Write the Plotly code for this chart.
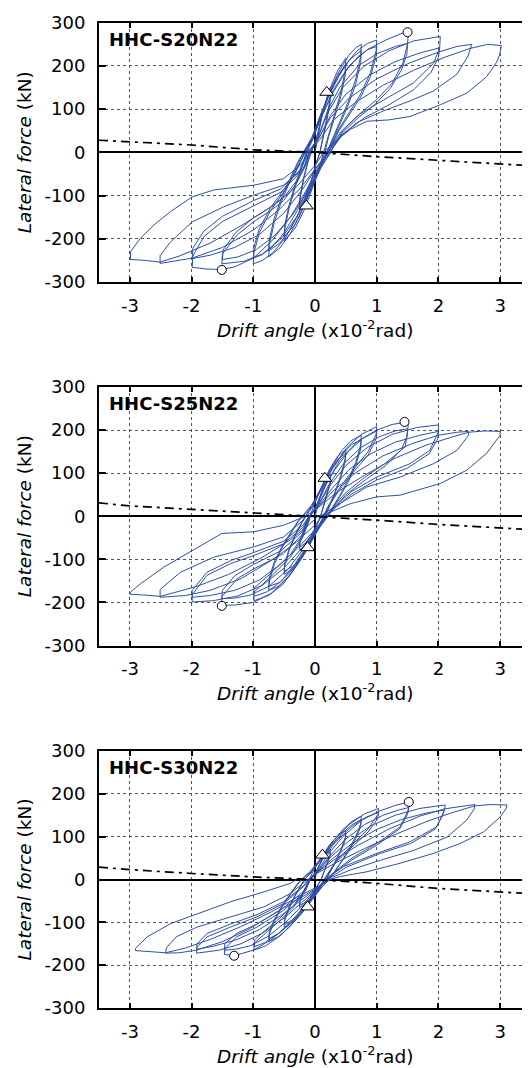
import plotly.graph_objects as go

# ---------------- data ----------------
drift_ticks = [-3, -2, -1, 0, 1, 2, 3]
force_ticks = [-300, -200, -100, 0, 100, 200, 300]
specimens = ["HHC-S20N22", "HHC-S25N22", "HHC-S30N22"]

loop_S20 = [
    (0, 0),
    (0.05, 40), (0.12, 90), (0.2, 130), (0.25, 150),
    (0.245, 125), (0.18, 70), (0.12, 30), (0.08, 0),
    (0.0, -35), (-0.08, -80), (-0.17, -115), (-0.25, -135),
    (-0.245, -110), (-0.18, -60), (-0.11, -20), (-0.06, 0),
    (0.03, 35), (0.11, 85), (0.19, 120), (0.25, 140),
    (0.245, 115), (0.18, 65), (0.12, 28), (0.08, 0),
    (0.0, -32), (-0.08, -75), (-0.17, -108), (-0.25, -128),
    (-0.245, -104), (-0.18, -56), (-0.11, -18), (-0.06, 0),
    (0.05, 45), (0.14, 100), (0.25, 150), (0.37, 190), (0.5, 218),
    (0.49, 190), (0.42, 140), (0.32, 90), (0.22, 40), (0.15, 0),
    (0.06, -40), (-0.06, -90), (-0.18, -135), (-0.32, -175), (-0.5, -205),
    (-0.49, -178), (-0.42, -130), (-0.32, -80), (-0.21, -32), (-0.13, 0),
    (-0.02, 35), (0.1, 85), (0.23, 135), (0.36, 175), (0.5, 205),
    (0.49, 178), (0.42, 130), (0.32, 82), (0.22, 36), (0.16, 0),
    (0.07, -35), (-0.06, -82), (-0.19, -128), (-0.33, -168), (-0.5, -195),
    (-0.49, -168), (-0.42, -122), (-0.32, -74), (-0.21, -28), (-0.14, 0),
    (-0.03, 35), (0.1, 90), (0.25, 145), (0.4, 190), (0.55, 225), (0.66, 242), (0.75, 250),
    (0.74, 222), (0.66, 170), (0.54, 118), (0.4, 70), (0.27, 28), (0.19, 0),
    (0.08, -38), (-0.07, -90), (-0.24, -145), (-0.4, -188), (-0.56, -220), (-0.75, -242),
    (-0.74, -214), (-0.66, -162), (-0.54, -112), (-0.4, -66), (-0.27, -24), (-0.18, 0),
    (-0.05, 32), (0.08, 82), (0.24, 135), (0.4, 180), (0.56, 214), (0.75, 236),
    (0.74, 208), (0.66, 158), (0.54, 110), (0.4, 64), (0.27, 24), (0.2, 0),
    (0.08, -36), (-0.08, -85), (-0.25, -138), (-0.41, -180), (-0.57, -210), (-0.75, -228),
    (-0.74, -202), (-0.66, -152), (-0.54, -104), (-0.4, -60), (-0.27, -20), (-0.19, 0),
    (-0.05, 35), (0.1, 90), (0.28, 150), (0.48, 200), (0.68, 235), (0.85, 252), (1.0, 260),
    (0.99, 235), (0.9, 185), (0.74, 135), (0.55, 92), (0.38, 52), (0.26, 16), (0.22, 0),
    (0.08, -35), (-0.1, -85), (-0.28, -145), (-0.48, -198), (-0.68, -232), (-0.85, -250), (-1.0, -258),
    (-0.99, -232), (-0.9, -185), (-0.72, -135), (-0.5, -90), (-0.32, -48), (-0.2, -12), (-0.16, 0),
    (-0.04, 32), (0.1, 82), (0.3, 140), (0.5, 188), (0.7, 222), (0.86, 238), (1.0, 245),
    (0.99, 222), (0.9, 176), (0.74, 128), (0.55, 86), (0.38, 48), (0.27, 14), (0.23, 0),
    (0.08, -32), (-0.1, -80), (-0.3, -138), (-0.5, -186), (-0.7, -220), (-0.86, -237), (-1.0, -245),
    (-0.99, -220), (-0.9, -176), (-0.72, -128), (-0.5, -85), (-0.32, -45), (-0.2, -10), (-0.17, 0),
    (-0.05, 30), (0.1, 80), (0.3, 145), (0.55, 200), (0.85, 238), (1.15, 260), (1.45, 278), (1.51, 275),
    (1.5, 250), (1.42, 205), (1.25, 160), (1.0, 122), (0.7, 86), (0.45, 50), (0.3, 15), (0.25, 0),
    (0.1, -35), (-0.08, -90), (-0.3, -150), (-0.55, -200), (-0.85, -235), (-1.15, -252), (-1.51, -258),
    (-1.5, -235), (-1.26, -191), (-0.99, -160), (-0.72, -135), (-0.51, -112), (-0.3, -72), (-0.15, -30), (-0.08, 0),
    (0.05, 35), (0.2, 95), (0.4, 150), (0.7, 200), (1.0, 228), (1.3, 245), (1.5, 252),
    (1.49, 228), (1.4, 190), (1.22, 148), (0.98, 112), (0.7, 80), (0.45, 46), (0.3, 14), (0.26, 0),
    (0.1, -32), (-0.1, -85), (-0.35, -142), (-0.65, -192), (-0.95, -225), (-1.25, -242), (-1.5, -248),
    (-1.49, -226), (-1.28, -185), (-1.0, -152), (-0.72, -127), (-0.5, -104), (-0.3, -66), (-0.15, -27), (-0.09, 0),
    (0.05, 35), (0.22, 95), (0.45, 150), (0.8, 200), (1.2, 235), (1.6, 258), (2.03, 268),
    (2.02, 241), (1.92, 206), (1.59, 160), (1.11, 121), (0.72, 88), (0.42, 48), (0.26, 12), (0.22, 0),
    (0.05, -35), (-0.15, -90), (-0.4, -150), (-0.7, -205), (-1.0, -245), (-1.3, -265), (-1.51, -271), (-1.75, -270), (-1.99, -266),
    (-1.98, -240), (-1.8, -195), (-1.5, -160), (-1.0, -125), (-0.55, -92), (-0.25, -48), (-0.12, 0),
    (0.05, 30), (0.25, 85), (0.5, 135), (0.9, 180), (1.3, 210), (1.7, 230), (2.02, 242),
    (2.0, 220), (1.88, 185), (1.6, 145), (1.2, 110), (0.8, 80), (0.45, 42), (0.27, 8), (0.24, 0),
    (0.05, -30), (-0.2, -85), (-0.5, -140), (-0.9, -190), (-1.3, -220), (-1.7, -238), (-1.99, -246),
    (-1.98, -222), (-1.8, -182), (-1.5, -148), (-1.0, -112), (-0.55, -84), (-0.25, -42), (-0.12, 0),
    (0.05, 30), (0.25, 80), (0.55, 125), (1.0, 170), (1.5, 205), (2.0, 232), (2.3, 245), (2.54, 250),
    (2.48, 223), (2.3, 181), (1.92, 142), (1.54, 119), (1.11, 96), (0.68, 69), (0.4, 35), (0.24, 6), (0.2, 0),
    (0.05, -30), (-0.25, -85), (-0.6, -135), (-1.0, -180), (-1.5, -220), (-2.0, -245), (-2.51, -257),
    (-2.51, -239), (-2.34, -207), (-1.99, -161), (-1.48, -126), (-0.99, -99), (-0.51, -76), (-0.19, -38), (-0.1, 0),
    (0.08, 30), (0.3, 75), (0.65, 115), (1.1, 155), (1.6, 190), (2.1, 220), (2.5, 240), (2.8, 250), (3.02, 247),
    (2.99, 225), (2.94, 208), (2.78, 175), (2.46, 137), (2.03, 110), (1.54, 83), (1.19, 75), (0.84, 72), (0.57, 53), (0.3, 22), (0.14, 0),
    (0.0, -30), (-0.3, -80), (-0.7, -125), (-1.2, -170), (-1.7, -210), (-2.2, -240), (-2.51, -254), (-2.75, -250), (-2.99, -248),
    (-2.99, -230), (-2.83, -199), (-2.61, -168), (-2.34, -137), (-1.99, -103), (-1.64, -87), (-0.99, -76), (-0.51, -61), (-0.24, -30), (-0.07, 0),
]

loop_S25 = [
    (0, 0),
    (0.05, 30), (0.12, 65), (0.2, 88), (0.25, 98),
    (0.245, 80), (0.18, 45), (0.12, 18), (0.09, 0),
    (0.02, -25), (-0.07, -50), (-0.16, -68), (-0.25, -78),
    (-0.245, -60), (-0.18, -32), (-0.12, -10), (-0.08, 0),
    (0.04, 28), (0.12, 60), (0.2, 82), (0.25, 92),
    (0.245, 75), (0.18, 42), (0.12, 16), (0.09, 0),
    (0.02, -23), (-0.07, -46), (-0.16, -63), (-0.25, -72),
    (-0.245, -56), (-0.18, -30), (-0.12, -9), (-0.08, 0),
    (-0.02, 25), (0.1, 65), (0.22, 105), (0.36, 138), (0.5, 155),
    (0.49, 135), (0.42, 95), (0.32, 55), (0.22, 20), (0.16, 0),
    (0.06, -25), (-0.06, -60), (-0.2, -95), (-0.34, -120), (-0.5, -135),
    (-0.49, -115), (-0.42, -80), (-0.32, -45), (-0.21, -15), (-0.15, 0),
    (-0.03, 24), (0.1, 62), (0.22, 100), (0.36, 131), (0.5, 147),
    (0.49, 128), (0.42, 90), (0.32, 52), (0.22, 18), (0.17, 0),
    (0.06, -24), (-0.06, -57), (-0.2, -90), (-0.34, -114), (-0.5, -128),
    (-0.49, -109), (-0.42, -76), (-0.32, -42), (-0.21, -13), (-0.16, 0),
    (-0.04, 25), (0.1, 65), (0.25, 110), (0.42, 150), (0.58, 175), (0.75, 188),
    (0.74, 165), (0.66, 125), (0.54, 85), (0.4, 48), (0.27, 15), (0.2, 0),
    (0.08, -25), (-0.08, -62), (-0.25, -105), (-0.42, -140), (-0.58, -162), (-0.75, -172),
    (-0.74, -150), (-0.66, -112), (-0.54, -75), (-0.4, -42), (-0.27, -12), (-0.2, 0),
    (-0.05, 24), (0.1, 62), (0.26, 105), (0.43, 142), (0.59, 166), (0.75, 178),
    (0.74, 156), (0.66, 118), (0.54, 80), (0.4, 45), (0.27, 13), (0.21, 0),
    (0.08, -24), (-0.08, -59), (-0.25, -100), (-0.42, -133), (-0.58, -154), (-0.75, -163),
    (-0.74, -142), (-0.66, -106), (-0.54, -71), (-0.4, -39), (-0.27, -10), (-0.21, 0),
    (-0.06, 25), (0.1, 65), (0.3, 115), (0.52, 160), (0.75, 190), (1.0, 208),
    (0.99, 190), (0.86, 150), (0.62, 108), (0.38, 62), (0.2, 20), (0.14, 0),
    (0.05, -25), (-0.1, -65), (-0.3, -115), (-0.52, -158), (-0.75, -184), (-0.99, -196),
    (-0.99, -176), (-0.72, -141), (-0.4, -95), (-0.2, -50), (-0.1, -12), (-0.08, 0),
    (0.02, 25), (0.12, 60), (0.32, 108), (0.54, 150), (0.77, 180), (1.0, 198),
    (0.99, 180), (0.86, 142), (0.62, 102), (0.38, 58), (0.2, 18), (0.15, 0),
    (0.05, -24), (-0.1, -62), (-0.32, -110), (-0.54, -150), (-0.77, -175), (-0.99, -186),
    (-0.99, -167), (-0.72, -133), (-0.4, -89), (-0.2, -46), (-0.1, -10), (-0.08, 0),
    (0.05, 30), (0.2, 80), (0.4, 130), (0.7, 175), (1.0, 200), (1.25, 213), (1.45, 218), (1.51, 213),
    (1.5, 195), (1.46, 161), (1.13, 122), (0.8, 90), (0.5, 55), (0.25, 15), (0.18, 0),
    (0.05, -30), (-0.15, -80), (-0.4, -135), (-0.7, -178), (-1.0, -200), (-1.3, -206), (-1.51, -207),
    (-1.51, -187), (-1.26, -145), (-0.99, -122), (-0.51, -87), (-0.19, -40), (-0.08, 0),
    (0.05, 25), (0.22, 72), (0.45, 120), (0.75, 160), (1.05, 185), (1.3, 198), (1.5, 203),
    (1.49, 185), (1.4, 155), (1.15, 118), (0.82, 85), (0.5, 50), (0.27, 12), (0.2, 0),
    (0.05, -25), (-0.17, -72), (-0.43, -122), (-0.75, -163), (-1.05, -183), (-1.3, -190), (-1.51, -191),
    (-1.5, -172), (-1.3, -138), (-1.0, -112), (-0.55, -80), (-0.22, -38), (-0.09, 0),
    (0.05, 25), (0.25, 72), (0.5, 118), (0.85, 160), (1.25, 190), (1.65, 206), (2.0, 212),
    (2.0, 196), (1.86, 153), (1.54, 122), (1.0, 91), (0.6, 58), (0.3, 20), (0.2, 0),
    (0.05, -25), (-0.2, -72), (-0.5, -120), (-0.85, -160), (-1.25, -185), (-1.65, -196), (-1.99, -199),
    (-1.99, -182), (-1.75, -137), (-1.37, -110), (-0.99, -91), (-0.51, -64), (-0.19, -25), (-0.1, 0),
    (0.05, 22), (0.28, 65), (0.55, 108), (0.9, 145), (1.3, 172), (1.7, 188), (2.0, 197),
    (1.99, 180), (1.85, 145), (1.5, 112), (1.0, 84), (0.6, 52), (0.3, 16), (0.2, 0),
    (0.05, -22), (-0.22, -65), (-0.55, -110), (-0.9, -148), (-1.3, -172), (-1.7, -184), (-1.99, -188),
    (-1.99, -172), (-1.75, -130), (-1.35, -102), (-0.99, -84), (-0.51, -58), (-0.19, -20), (-0.1, 0),
    (0.05, 20), (0.3, 60), (0.65, 100), (1.1, 140), (1.6, 170), (2.0, 188), (2.3, 195), (2.49, 197),
    (2.49, 188), (2.3, 153), (1.92, 122), (1.38, 91), (0.84, 68), (0.41, 29), (0.14, 6), (0.12, 0),
    (0.0, -20), (-0.3, -60), (-0.7, -102), (-1.2, -145), (-1.7, -172), (-2.1, -184), (-2.51, -188),
    (-2.51, -170), (-2.18, -130), (-1.64, -95), (-0.99, -71), (-0.51, -48), (-0.19, -9), (-0.15, 0),
    (0.05, 20), (0.35, 55), (0.8, 95), (1.3, 135), (1.8, 165), (2.2, 183), (2.49, 195), (2.75, 198), (3.0, 197),
    (3.0, 188), (2.78, 146), (2.46, 107), (2.03, 76), (1.38, 49), (1.0, 45), (0.57, 29), (0.19, 6), (0.05, 0),
    (-0.1, -20), (-0.4, -55), (-0.85, -95), (-1.4, -135), (-1.9, -162), (-2.3, -178), (-2.51, -186), (-2.75, -183), (-3.0, -181),
    (-2.99, -176), (-2.83, -157), (-2.45, -118), (-1.99, -79), (-1.51, -40), (-0.99, -36), (-0.51, -21), (-0.19, -2), (-0.15, 0),
]

loop_S30 = [
    (0, 0),
    (0.04, 25), (0.12, 50), (0.2, 65), (0.25, 70),
    (0.245, 58), (0.18, 32), (0.12, 10), (0.1, 0),
    (0.02, -20), (-0.08, -45), (-0.17, -60), (-0.25, -65),
    (-0.245, -52), (-0.18, -28), (-0.12, -8), (-0.09, 0),
    (0.04, 23), (0.12, 47), (0.2, 61), (0.25, 66),
    (0.245, 54), (0.18, 30), (0.12, 9), (0.1, 0),
    (0.02, -18), (-0.08, -41), (-0.17, -55), (-0.25, -60),
    (-0.245, -48), (-0.18, -26), (-0.12, -7), (-0.09, 0),
    (-0.03, 20), (0.1, 50), (0.23, 80), (0.37, 102), (0.5, 115),
    (0.49, 98), (0.42, 70), (0.32, 40), (0.22, 12), (0.18, 0),
    (0.08, -20), (-0.05, -45), (-0.2, -75), (-0.35, -98), (-0.5, -112),
    (-0.49, -95), (-0.42, -68), (-0.32, -38), (-0.22, -12), (-0.17, 0),
    (-0.04, 19), (0.1, 47), (0.23, 75), (0.37, 96), (0.5, 108),
    (0.49, 92), (0.42, 66), (0.32, 37), (0.22, 11), (0.18, 0),
    (0.08, -19), (-0.05, -43), (-0.2, -71), (-0.35, -93), (-0.5, -106),
    (-0.49, -90), (-0.42, -64), (-0.32, -36), (-0.22, -11), (-0.17, 0),
    (-0.05, 20), (0.1, 50), (0.27, 85), (0.44, 115), (0.6, 136), (0.75, 148),
    (0.74, 130), (0.66, 100), (0.54, 68), (0.4, 36), (0.28, 10), (0.23, 0),
    (0.1, -20), (-0.05, -48), (-0.23, -82), (-0.42, -112), (-0.6, -134), (-0.75, -145),
    (-0.74, -128), (-0.66, -98), (-0.54, -66), (-0.4, -35), (-0.28, -10), (-0.22, 0),
    (-0.06, 19), (0.1, 47), (0.27, 80), (0.44, 108), (0.6, 128), (0.75, 140),
    (0.74, 123), (0.66, 95), (0.54, 64), (0.4, 34), (0.28, 9), (0.23, 0),
    (0.1, -19), (-0.05, -45), (-0.23, -78), (-0.42, -106), (-0.6, -127), (-0.75, -138),
    (-0.74, -122), (-0.66, -93), (-0.54, -63), (-0.4, -33), (-0.28, -9), (-0.22, 0),
    (-0.07, 20), (0.1, 50), (0.3, 90), (0.55, 128), (0.8, 153), (1.03, 166),
    (1.02, 152), (0.86, 118), (0.6, 82), (0.35, 45), (0.2, 12), (0.15, 0),
    (0.05, -22), (-0.1, -52), (-0.3, -92), (-0.55, -130), (-0.8, -155), (-0.99, -165),
    (-0.98, -148), (-0.8, -125), (-0.6, -100), (-0.35, -65), (-0.15, -25), (-0.08, 0),
    (0.02, 20), (0.12, 47), (0.32, 85), (0.57, 121), (0.82, 145), (1.03, 157),
    (1.02, 143), (0.86, 111), (0.6, 77), (0.35, 42), (0.2, 11), (0.16, 0),
    (0.05, -21), (-0.1, -49), (-0.32, -88), (-0.57, -124), (-0.82, -148), (-0.99, -157),
    (-0.98, -141), (-0.8, -118), (-0.6, -94), (-0.35, -61), (-0.15, -23), (-0.08, 0),
    (0.05, 22), (0.22, 60), (0.45, 100), (0.75, 138), (1.05, 160), (1.3, 173), (1.52, 181), (1.53, 179),
    (1.51, 162), (1.38, 123), (1.0, 84), (0.6, 50), (0.3, 16), (0.18, 0),
    (0.05, -22), (-0.15, -60), (-0.4, -100), (-0.7, -140), (-1.0, -165), (-1.31, -178), (-1.47, -175),
    (-1.46, -161), (-1.27, -134), (-0.94, -111), (-0.51, -72), (-0.19, -33), (-0.07, 0),
    (0.05, 20), (0.24, 55), (0.48, 92), (0.8, 128), (1.1, 150), (1.35, 162), (1.52, 168),
    (1.5, 152), (1.37, 118), (1.0, 80), (0.6, 46), (0.3, 14), (0.2, 0),
    (0.05, -20), (-0.17, -55), (-0.43, -94), (-0.75, -132), (-1.05, -155), (-1.3, -163), (-1.47, -165),
    (-1.46, -150), (-1.27, -126), (-0.94, -104), (-0.51, -66), (-0.19, -28), (-0.08, 0),
    (0.05, 20), (0.25, 52), (0.55, 90), (0.9, 125), (1.3, 150), (1.7, 166), (2.11, 174),
    (2.1, 162), (1.97, 123), (1.54, 88), (1.0, 61), (0.46, 30), (0.19, 3), (0.17, 0),
    (0.05, -20), (-0.2, -52), (-0.5, -90), (-0.85, -125), (-1.2, -150), (-1.55, -165), (-1.92, -172),
    (-1.91, -158), (-1.75, -134), (-1.37, -111), (-0.94, -87), (-0.51, -56), (-0.19, -17), (-0.1, 0),
    (0.05, 18), (0.28, 48), (0.6, 84), (1.0, 117), (1.4, 140), (1.8, 155), (2.09, 162),
    (2.07, 150), (1.95, 118), (1.55, 84), (1.0, 58), (0.5, 28), (0.22, 3), (0.2, 0),
    (0.05, -18), (-0.22, -48), (-0.55, -84), (-0.9, -117), (-1.3, -142), (-1.65, -156), (-1.92, -163),
    (-1.91, -150), (-1.75, -126), (-1.37, -104), (-0.94, -82), (-0.51, -52), (-0.19, -15), (-0.1, 0),
    (0.05, 18), (0.3, 45), (0.7, 80), (1.2, 118), (1.7, 148), (2.1, 165), (2.4, 172), (2.59, 175),
    (2.58, 165), (2.46, 139), (2.14, 99), (1.6, 68), (1.06, 45), (0.57, 22), (0.3, 6), (0.25, 0),
    (0.05, -18), (-0.3, -48), (-0.7, -84), (-1.1, -118), (-1.5, -145), (-1.92, -165), (-2.2, -171), (-2.42, -172),
    (-2.41, -160), (-2.25, -134), (-1.91, -111), (-1.37, -87), (-0.83, -64), (-0.4, -33), (-0.13, -2), (-0.12, 0),
    (0.05, 16), (0.35, 40), (0.8, 72), (1.3, 105), (1.8, 135), (2.2, 155), (2.59, 172), (2.85, 175), (3.11, 174),
    (3.1, 166), (3.0, 146), (2.73, 111), (2.35, 84), (1.92, 61), (1.38, 38), (0.84, 18), (0.41, 7), (0.24, 0),
    (0.05, -16), (-0.3, -42), (-0.7, -75), (-1.2, -110), (-1.7, -140), (-2.1, -160), (-2.42, -171), (-2.65, -168), (-2.91, -166),
    (-2.91, -161), (-2.72, -134), (-2.34, -103), (-1.91, -80), (-1.37, -52), (-0.83, -29), (-0.4, -9), (-0.3, 0),
]

# P-delta (dash-dot) lines
pdelta_drift = [-3.5, -3, -2, -1, 0, 1, 2, 3, 3.5]
pdelta_S20 = [28, 24, 17, 6, 0, -10, -18, -27, -31]
pdelta_S25 = [31, 24, 16, 8, 0, -9, -19, -27, -31]
pdelta_S30 = [29, 23, 14, 6, 0, -9, -21, -29, -33]

# maximum strength (circles) and triangle markers
peak_S20_x, peak_S20_y = [1.5, -1.51], [278, -272]
peak_S25_x, peak_S25_y = [1.45, -1.51], [219, -208]
peak_S30_x, peak_S30_y = [1.52, -1.31], [181, -178]
tri_S20_x, tri_S20_y = [0.19, -0.14], [139, -124]
tri_S25_x, tri_S25_y = [0.16, -0.12], [88, -73]
tri_S30_x, tri_S30_y = [0.12, -0.12], [57, -64]

# ---------------- figure ----------------
W, H = 530, 1068
OFF = 8.0          # page body margin: screen = figure + OFF


def fx(s):         # screen x (px) -> paper fraction
    return (s - OFF) / W


def fy(s):         # screen y (px) -> paper fraction
    return 1 - (s - OFF) / H


panels = [
    dict(name=specimens[0], loop=loop_S20, pd=pdelta_S20, px=peak_S20_x, py=peak_S20_y,
         tx=tri_S20_x, ty=tri_S20_y, top=22.7, bot=282.0),
    dict(name=specimens[1], loop=loop_S25, pd=pdelta_S25, px=peak_S25_x, py=peak_S25_y,
         tx=tri_S25_x, ty=tri_S25_y, top=387.0, bot=645.5),
    dict(name=specimens[2], loop=loop_S30, pd=pdelta_S30, px=peak_S30_x, py=peak_S30_y,
         tx=tri_S30_x, ty=tri_S30_y, top=751.0, bot=1008.0),
]

FONT = "DejaVu Sans"
LINE_BLUE = "#2f4fa8"
fig = go.Figure()
layout = dict(
    width=W, height=H, margin=dict(l=0, r=0, t=0, b=0, autoexpand=False),
    paper_bgcolor="white", plot_bgcolor="white", showlegend=False,
    font=dict(family=FONT, size=18, color="black"),
    annotations=[],
)

x_left, x_right = 99.0, 531.0
for i, p in enumerate(panels, start=1):
    xa = f"x{i}" if i > 1 else "x"
    ya = f"y{i}" if i > 1 else "y"
    yr = f"y{i + 3}"
    xs = [pt[0] for pt in p["loop"]]
    ys = [pt[1] for pt in p["loop"]]
    fig.add_trace(go.Scatter(x=xs, y=ys, mode="lines", xaxis=xa, yaxis=ya,
                             line=dict(color=LINE_BLUE, width=1), hoverinfo="skip"))
    fig.add_trace(go.Scatter(x=pdelta_drift, y=p["pd"], mode="lines", xaxis=xa, yaxis=ya,
                             line=dict(color="black", width=1.7, dash="9px,5px,3px,5px")))
    fig.add_trace(go.Scatter(x=p["tx"], y=p["ty"], mode="markers", xaxis=xa, yaxis=ya,
                             marker=dict(symbol="triangle-up", size=12, color="white",
                                         line=dict(color="black", width=1))))
    fig.add_trace(go.Scatter(x=p["px"], y=p["py"], mode="markers", xaxis=xa, yaxis=ya,
                             marker=dict(symbol="circle", size=9, color="white",
                                         line=dict(color="black", width=1))))
    # dummy trace for the right-hand tick axis
    fig.add_trace(go.Scatter(x=[None], y=[None], xaxis=xa, yaxis=yr, mode="lines"))

    ydom = [fy(p["bot"]), fy(p["top"])]
    common_grid = dict(showgrid=True, gridcolor="#555555", griddash="dot", gridwidth=1,
                       zeroline=True, zerolinecolor="black", zerolinewidth=2)
    layout[f"xaxis{i if i > 1 else ''}"] = dict(
        domain=[fx(x_left), fx(x_right)], range=[-3.5, 3.5], anchor=ya,
        tickmode="array", tickvals=drift_ticks, ticktext=[str(v) for v in drift_ticks],
        ticks="inside", ticklen=5, tickwidth=2, tickcolor="black",
        showline=True, linewidth=2, linecolor="black", mirror="ticks",
        tickfont=dict(family=FONT, size=18, color="black"), ticklabelstandoff=6,
        **common_grid,
    )
    layout[f"yaxis{i if i > 1 else ''}"] = dict(
        domain=ydom, range=[-300, 300], anchor=xa,
        tickmode="array", tickvals=force_ticks, ticktext=[str(v) for v in force_ticks],
        ticks="inside", ticklen=7, tickwidth=2, tickcolor="black",
        showline=True, linewidth=2, linecolor="black", mirror=False,
        tickfont=dict(family=FONT, size=18, color="black"), ticklabelstandoff=8,
        **common_grid,
    )
    layout[f"yaxis{i + 3}"] = dict(
        overlaying=ya, side="right", anchor="free", position=fx(x_right),
        range=[-300, 300], tickmode="array", tickvals=force_ticks,
        ticks="inside", ticklen=7, tickwidth=2, tickcolor="black",
        showticklabels=False, showgrid=False, zeroline=False, showline=False,
    )

    shift = p["bot"] - panels[0]["bot"]
    zero_y = p["top"] + (p["bot"] - p["top"]) / 2
    layout["annotations"] += [
        dict(text=f"<b>{p['name']}</b>", x=fx(106.5), y=fy(p["top"] + 16.3),
             xref="paper", yref="paper", xanchor="left", yanchor="middle", showarrow=False,
             font=dict(family=FONT, size=18, color="black")),
        dict(text="<i>Drift angle</i> (x10<sup>-2</sup>rad)", x=fx(315), y=fy(328.5 + shift),
             xref="paper", yref="paper", xanchor="center", yanchor="middle", showarrow=False,
             font=dict(family=FONT, size=18.5, color="black")),
        dict(text="<i>Lateral force</i> (kN)", x=fx(24), y=fy(zero_y), textangle=-90,
             xref="paper", yref="paper", xanchor="center", yanchor="middle", showarrow=False,
             font=dict(family=FONT, size=18.5, color="black")),
    ]

fig.update_layout(**layout)
fig.write_html("out.html")
